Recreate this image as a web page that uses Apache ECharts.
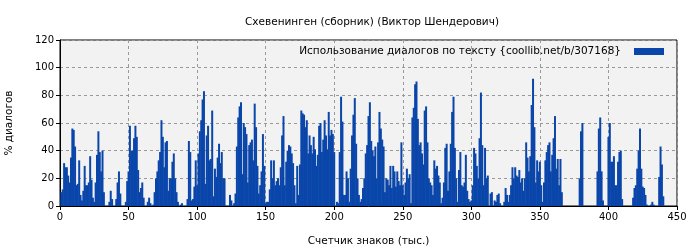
<!DOCTYPE html>
<html><head><meta charset="utf-8">
<script src="https://cdn.jsdelivr.net/npm/echarts@6/dist/echarts.min.js"></script>
<style>html,body{margin:0;padding:0;background:#fff}#c{width:700px;height:250px}</style>
</head><body><div id="c"></div>
<script>
// x positions: thousands of characters, 1..440
const values = [
10,12,31,28,28,22,17,35,56,55,43,15,16,33,8,4,11,29,15,15,17,36,19,6,3,17,37,54,39,25,40,10,0,0,0,3,11,5,
0,0,5,17,25,9,0,0,0,3,18,25,58,40,40,49,58,50,26,10,13,17,6,0,0,3,6,2,0,1,10,20,25,33,39,62,50,
28,46,47,11,20,20,32,38,20,10,3,0,1,2,0,0,0,5,47,39,4,5,14,33,15,38,54,62,77,83,16,51,58,33,34,69,7,27,
21,35,45,31,39,20,20,0,0,0,8,4,0,2,9,43,64,72,75,23,60,57,52,17,44,46,48,33,74,57,29,9,15,25,52,29,2,3,
3,12,33,20,33,15,18,20,15,28,51,65,15,32,40,44,43,38,31,15,2,29,8,30,69,67,66,57,62,38,51,44,38,50,41,29,37,58,
60,39,48,62,51,41,68,51,55,52,39,0,3,2,39,79,61,8,8,25,20,3,27,51,66,78,45,20,8,3,5,13,20,38,44,65,75,47,
40,36,43,20,46,68,56,48,43,10,20,19,15,29,13,29,25,14,25,18,15,46,15,8,17,27,20,23,2,64,71,88,90,63,44,46,38,
30,69,72,46,20,17,15,8,33,27,29,22,17,2,6,17,42,45,11,25,45,68,79,42,20,3,26,39,15,14,17,37,11,5,3,4,15,42,
38,29,20,49,82,44,15,42,20,22,0,9,10,0,4,3,8,9,2,0,0,3,13,8,3,8,15,28,20,28,22,21,26,17,20,11,20,46,
35,25,36,73,92,57,17,33,25,32,15,3,17,33,39,44,46,25,37,49,65,27,34,15,34,10,0,0,0,0,0,0,0,0,0,0,0,0,
20,54,60,0,0,0,0,0,0,0,0,0,0,25,56,64,25,4,0,0,0,50,60,32,32,36,15,15,32,39,40,5,0,0,0,0,0,0,0,
6,13,15,27,40,56,27,14,13,8,1,0,0,1,3,1,0,0,0,21,43,30,7
];
const xStart = 1;
const xTicks = [0,50,100,150,200,250,300,350,400,450];
const yTicks = [0,20,40,60,80,100,120];
const title = 'Схевенинген (сборник) (Виктор Шендерович)';
const seriesName = 'Использование диалогов по тексту {coollib.net/b/307168}';

const data = values.map((v,i)=>[xStart+i, v]);
const chart = echarts.init(document.getElementById('c'));
const font = 'DejaVu Sans';
chart.setOption({
  backgroundColor:'#ffffff',
  animation:false,
  title:{text:title,left:367,top:12,textAlign:'center',textStyle:{fontFamily:font,fontSize:10.5,fontWeight:'normal',color:'#000'}},
  legend:{show:true,right:31,top:41,align:'right',itemWidth:30,itemHeight:7,itemGap:0,icon:'rect',
    textStyle:{fontFamily:font,fontSize:10.5,color:'#000',padding:[0,8,0,0]},data:[seriesName]},
  grid:{left:60,right:23,top:40,bottom:44,outerBoundsMode:'none',show:true,backgroundColor:'#f2f2f2',borderColor:'#000',borderWidth:1},
  xAxis:{type:'value',min:xTicks[0],max:xTicks[xTicks.length-1],interval:50,
    name:'Счетчик знаков (тыс.)',nameLocation:'middle',nameGap:30,nameTextStyle:{fontFamily:font,fontSize:10.5,color:'#000'},
    axisLine:{lineStyle:{color:'#000'}},axisTick:{show:true,length:4,lineStyle:{color:'#000'}},
    axisLabel:{fontFamily:font,fontSize:10,color:'#000',margin:6},
    splitLine:{show:true,lineStyle:{color:'#999',type:[3,3]}}},
  yAxis:{type:'value',min:yTicks[0],max:yTicks[yTicks.length-1],interval:20,
    name:'% диалогов',nameLocation:'middle',nameGap:45,nameTextStyle:{fontFamily:font,fontSize:10.5,color:'#000'},
    axisLine:{show:true,lineStyle:{color:'#000'}},axisTick:{show:true,length:4,lineStyle:{color:'#000'}},
    axisLabel:{fontFamily:font,fontSize:10,color:'#000',margin:6},
    splitLine:{show:true,lineStyle:{color:'#999',type:[3,3]}}},
  series:[{name:seriesName,type:'bar',data:data,barWidth:2,itemStyle:{color:'#0a46aa'}}]
});
</script></body></html>
